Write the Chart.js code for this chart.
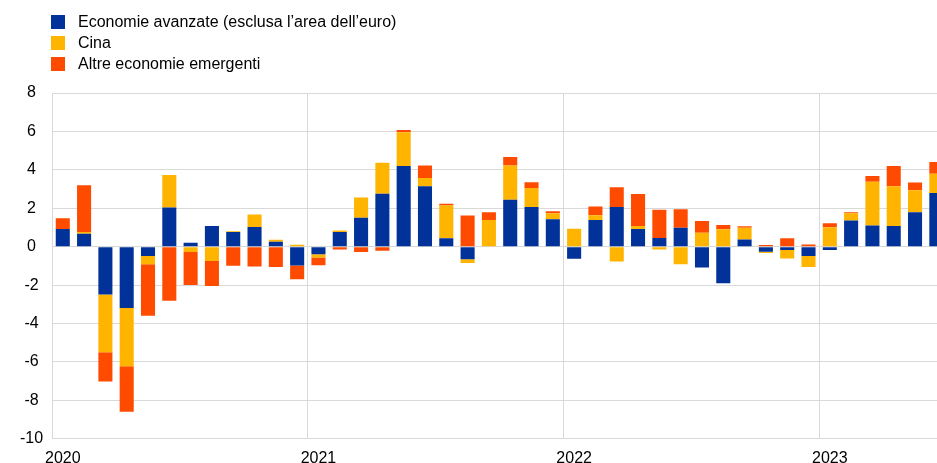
<!DOCTYPE html>
<html>
<head>
<meta charset="utf-8">
<script src="https://cdn.jsdelivr.net/npm/chart.js@4.4.1/dist/chart.umd.min.js"></script>
<style>
  html, body { margin: 0; padding: 0; background: #fff; overflow: hidden; }
  #wrap { position: relative; width: 937px; height: 463px; overflow: hidden; }
  #box { position: absolute; left: 0; top: 0; width: 948px; height: 478px; }
  #legend { position: absolute; left: 51px; top: 11px; font: 16px "Liberation Sans", Arial, sans-serif; color: #000; }
  #legend div { height: 21px; line-height: 21px; display: flex; align-items: center; }
  #legend span { display: inline-block; width: 14px; height: 14px; margin-right: 13px; }
</style>
</head>
<body>
<div id="wrap">
  <div id="box"><canvas id="chart"></canvas></div>
  <div id="legend"></div>
</div>
<script>
// mesi da gen 2020 a giu 2023
const months = [
  '2020-01','2020-02','2020-03','2020-04','2020-05','2020-06','2020-07','2020-08','2020-09','2020-10','2020-11','2020-12',
  '2021-01','2021-02','2021-03','2021-04','2021-05','2021-06','2021-07','2021-08','2021-09','2021-10','2021-11','2021-12',
  '2022-01','2022-02','2022-03','2022-04','2022-05','2022-06','2022-07','2022-08','2022-09','2022-10','2022-11','2022-12',
  '2023-01','2023-02','2023-03','2023-04','2023-05','2023-06'
];

const economieAvanzate = [
  0.92, 0.68, -2.49, -3.19, -0.49, 2.04, 0.21, 1.08, 0.77, 1.03, 0.26, -0.98,
  -0.40, 0.77, 1.50, 2.75, 4.20, 3.14, 0.44, -0.66, 0.00, 2.44, 2.07, 1.43,
  -0.63, 1.39, 2.07, 0.92, 0.45, 0.98, -1.08, -1.90, 0.38, -0.26, -0.17, -0.49,
  -0.17, 1.36, 1.10, 1.08, 1.79, 2.79
];

const cina = [
  0.00, 0.09, -3.01, -3.03, -0.43, 1.69, -0.28, -0.75, 0.03, 0.64, 0.10, 0.10,
  -0.16, 0.07, 1.06, 1.62, 1.76, 0.43, 1.70, -0.19, 1.39, 1.79, 0.98, 0.31,
  0.94, 0.25, -0.77, 0.16, -0.14, -0.91, 0.73, 0.91, 0.60, -0.07, -0.44, -0.57,
  1.01, 0.38, 2.28, 2.06, 1.15, 1.01
];

const altreEmergenti = [
  0.56, 2.43, -1.52, -2.37, -2.67, -2.82, -1.71, -1.29, -0.99, -1.03, -1.06, -0.71,
  -0.40, -0.14, -0.28, -0.21, 0.12, 0.66, 0.09, 1.62, 0.40, 0.44, 0.31, 0.11,
  0.00, 0.45, 1.03, 1.66, 1.47, 0.97, 0.61, 0.22, 0.08, 0.09, 0.44, 0.12,
  0.21, 0.05, 0.30, 1.06, 0.40, 0.61
];

const seriesNames = [
  'Economie avanzate (esclusa l\u2019area dell\u2019euro)',
  'Cina',
  'Altre economie emergenti'
];
const seriesColors = ['#003299', '#FFB400', '#FF4B00'];

const gridColor = '#d9d9d9';
const font = { family: '"Liberation Sans", Arial, sans-serif', size: 16 };

// legenda html, una voce per riga
const legendEl = document.getElementById('legend');
seriesNames.forEach((name, i) => {
  const row = document.createElement('div');
  const sw = document.createElement('span');
  sw.style.background = seriesColors[i];
  row.appendChild(sw);
  row.appendChild(document.createTextNode(name));
  legendEl.appendChild(row);
});

const values = [economieAvanzate, cina, altreEmergenti];

new Chart(document.getElementById('chart'), {
  type: 'bar',
  data: {
    labels: months,
    datasets: values.map((d, i) => ({
      label: seriesNames[i],
      data: d,
      backgroundColor: seriesColors[i],
      categoryPercentage: 1,
      barPercentage: 0.66,
    })),
  },
  options: {
    responsive: true,
    maintainAspectRatio: false,
    animation: false,
    layout: { padding: { top: 93, left: 11, right: 1, bottom: 0 } },
    plugins: {
      legend: { display: false },
      tooltip: { enabled: false },
    },
    scales: {
      x: {
        stacked: true,
        grid: {
          offset: true,
          drawTicks: false,
          color: (ctx) => (ctx.index % 12 === 0 ? gridColor : 'rgba(0,0,0,0)'),
        },
        border: { color: gridColor },
        ticks: {
          autoSkip: false,
          maxRotation: 0,
          padding: 10,
          color: '#000',
          font: font,
          callback: function (val, i) {
            const m = months[i];
            return m.endsWith('-01') ? m.slice(0, 4) : '';
          },
        },
      },
      y: {
        stacked: true,
        min: -10,
        max: 8,
        grid: { color: gridColor, drawTicks: false },
        border: { color: gridColor },
        ticks: {
          stepSize: 2,
          padding: 9,
          crossAlign: 'center',
          color: '#000',
          font: font,
        },
      },
    },
  },
});
</script>
</body>
</html>
